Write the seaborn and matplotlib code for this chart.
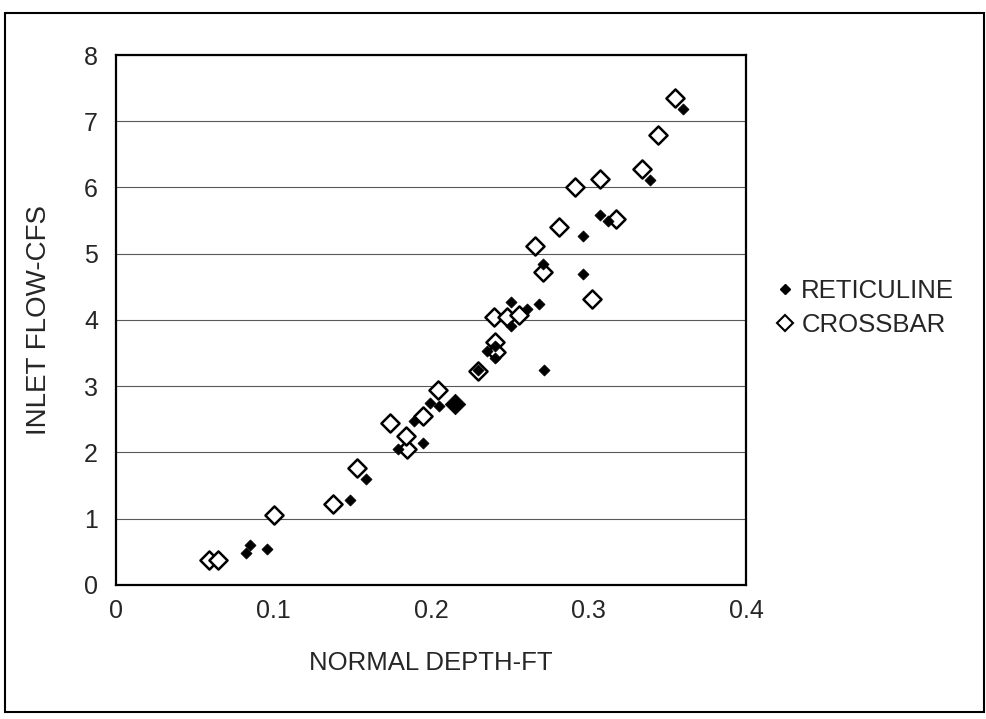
import pandas as pd
import matplotlib.pyplot as plt
import seaborn as sns
from matplotlib.patches import Rectangle
from matplotlib.lines import Line2D

# Data
reticuline_depth = [0.0825, 0.0853, 0.0957, 0.1486, 0.1587, 0.179, 0.1947, 0.189,
                    0.1994, 0.2049, 0.230, 0.2358, 0.2406, 0.2406, 0.2508, 0.2508,
                    0.2612, 0.2688, 0.2717, 0.2713, 0.2967, 0.2967, 0.3073, 0.3126,
                    0.339, 0.3602]
reticuline_flow = [0.49, 0.61, 0.54, 1.28, 1.60, 2.05, 2.15, 2.47,
                   2.75, 2.70, 3.25, 3.53, 3.60, 3.43, 3.91, 4.27,
                   4.17, 4.24, 3.24, 4.84, 4.69, 5.27, 5.58, 5.50,
                   6.12, 7.18]
# overlapping reticuline points drawn as one bigger mark
reticuline_big_depth = [0.215]
reticuline_big_flow = [2.73]

crossbar_depth = [0.059, 0.065, 0.1005, 0.138, 0.153, 0.1846, 0.184, 0.174,
                  0.1947, 0.2046, 0.230, 0.2406, 0.2413, 0.2402, 0.248, 0.256,
                  0.2713, 0.3024, 0.266, 0.2813, 0.3175, 0.2914, 0.3073, 0.3337,
                  0.3443, 0.355]
crossbar_flow = [0.38, 0.38, 1.06, 1.22, 1.77, 2.05, 2.25, 2.44,
                 2.55, 2.94, 3.23, 3.67, 3.52, 4.04, 4.04, 4.08,
                 4.72, 4.31, 5.11, 5.40, 5.53, 6.00, 6.13, 6.28,
                 6.79, 7.35]

x_ticks = [0, 0.1, 0.2, 0.3, 0.4]
x_tick_labels = ['0', '0.1', '0.2', '0.3', '0.4']
y_ticks = [0, 1, 2, 3, 4, 5, 6, 7, 8]

df_ret = pd.DataFrame({'depth': reticuline_depth, 'flow': reticuline_flow})
df_big = pd.DataFrame({'depth': reticuline_big_depth, 'flow': reticuline_big_flow})
df_cross = pd.DataFrame({'depth': crossbar_depth, 'flow': crossbar_flow})

sns.set_style('white')
plt.rcParams['font.family'] = ['Liberation Sans', 'DejaVu Sans']

fig = plt.figure(figsize=(9.87, 7.19), dpi=100)
ax = fig.add_axes([0.1175, 0.1864, 0.6385, 0.7371])

sns.scatterplot(x='depth', y='flow', data=df_cross, ax=ax, marker='D', s=85,
                facecolor='white', edgecolor='black', linewidth=1.8, zorder=3)
sns.scatterplot(x='depth', y='flow', data=df_ret, ax=ax, marker='D', s=32,
                color='black', edgecolor='black', linewidth=0.5, zorder=4)
sns.scatterplot(x='depth', y='flow', data=df_big, ax=ax, marker='D', s=110,
                color='black', edgecolor='black', linewidth=0.5, zorder=4)

ax.set_xlim(0, 0.4)
ax.set_ylim(0, 8)
ax.set_xticks(x_ticks)
ax.set_xticklabels(x_tick_labels)
ax.set_yticks(y_ticks)
ax.yaxis.grid(True, color='0.35', linewidth=0.8)
ax.xaxis.grid(False)
ax.set_axisbelow(True)

for sp in ax.spines.values():
    sp.set_color('black')
    sp.set_linewidth(1.6)

ax.tick_params(axis='y', length=4, width=1, color='black', pad=9, labelsize=18)
ax.tick_params(axis='x', length=0, pad=10, labelsize=18)

ax.set_xlabel('NORMAL DEPTH-FT', fontsize=18.5, labelpad=20)
ax.set_ylabel('INLET FLOW-CFS', fontsize=20, labelpad=23)

handles = [
    Line2D([], [], marker='D', linestyle='none', markersize=5,
           markerfacecolor='black', markeredgecolor='black'),
    Line2D([], [], marker='D', linestyle='none', markersize=8,
           markerfacecolor='white', markeredgecolor='black', markeredgewidth=1.5),
]
ax.legend(handles, ['RETICULINE', 'CROSSBAR'], loc='center left',
          bbox_to_anchor=(1.01, 0.523), frameon=False, fontsize=18.5,
          handlelength=0.7, handletextpad=0.3, labelspacing=0.4)

# outer border around the whole chart
fig.patches.append(Rectangle((0.005, 0.01), 0.992, 0.972, transform=fig.transFigure,
                             fill=False, edgecolor='black', linewidth=1.5))

fig.savefig('out.png', dpi=100)
